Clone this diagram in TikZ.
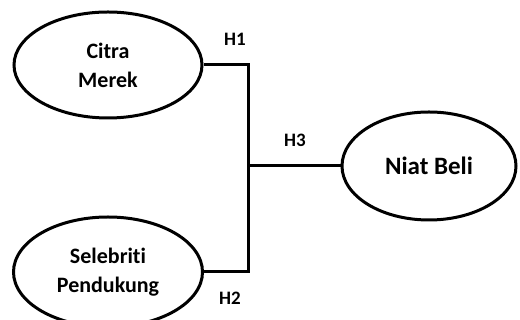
\documentclass[tikz,border=0pt]{standalone}
\usepackage{fontspec}
\setmainfont{Carlito}[Ligatures=NoCommon]
\usetikzlibrary{shapes.geometric}
\begin{document}
\begin{tikzpicture}[x=1pt,y=1pt,
  var/.style={ellipse,draw,line width=3pt,inner sep=0pt,font=\bfseries,align=center},
  link/.style={line width=3pt,line join=miter},
  hyp/.style={font=\bfseries\fontsize{19}{22}\selectfont}]
\useasboundingbox (0,0) rectangle (520,320);
\fill[white] (0,0) rectangle (520,320);
\node[var,minimum width=188pt,minimum height=106pt,
  font=\bfseries\fontsize{22}{29}\selectfont] (cm) at (108,255) {Citra\\Merek};
\node[var,minimum width=189pt,minimum height=110pt,
  font=\bfseries\fontsize{22}{29}\selectfont] (sp) at (108,48) {Selebriti\\Pendukung};
\node[var,minimum width=174pt,minimum height=108pt,
  font=\bfseries\fontsize{25}{30}\selectfont] (nb) at (429,154) {Niat Beli};
\coordinate (j) at (248,154);
\draw[link] (cm.east) -- (cm.east -| j) -- (sp.east -| j) -- (sp.east);
\draw[link] (j) -- (nb.west);
\node[hyp] (h1) at (235,281) {H1};
\node[hyp] (h3) at (295,180) {H3};
\node[hyp] (h2) at (230,22) {H2};
\end{tikzpicture}
\end{document}
